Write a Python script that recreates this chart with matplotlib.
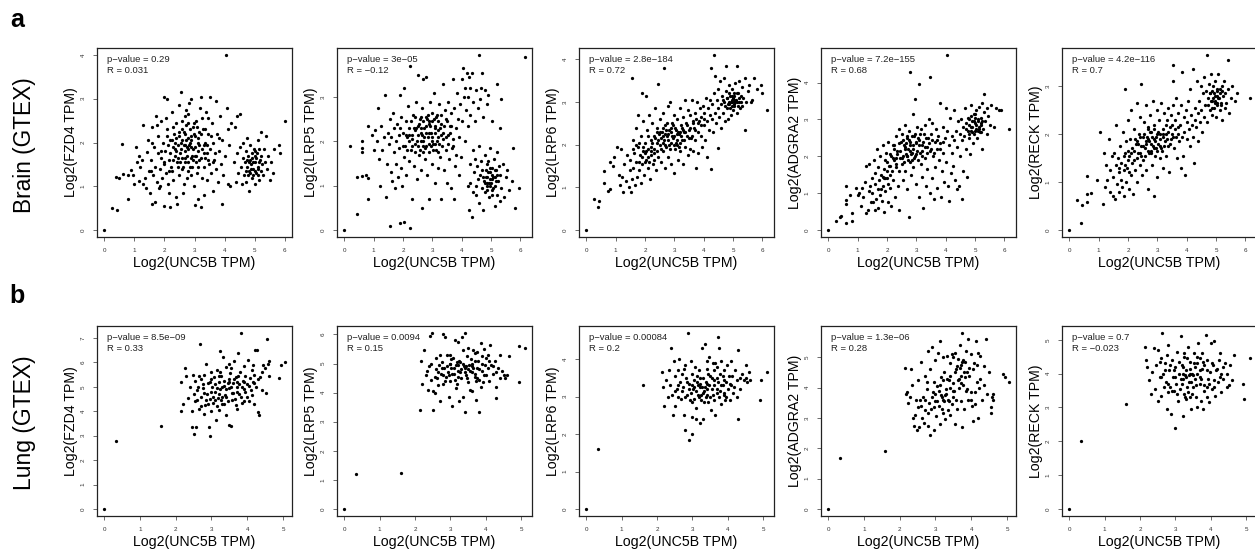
import matplotlib
matplotlib.use('Agg')
import matplotlib.pyplot as plt
import numpy as np

plt.rcParams['font.family'] = ['Liberation Sans', 'DejaVu Sans']

# ---------------- labels / stats ----------------
genes = ['FZD4', 'LRP5', 'LRP6', 'ADGRA2', 'RECK']
row_labels = ['Brain (GTEX)', 'Lung (GTEX)']
panel_letters = ['a', 'b']
x_label = 'Log2(UNC5B TPM)'
brain_pvals = ['0.29', '3e\u221205', '2.8e\u2212184', '7.2e\u2212155', '4.2e\u2212116']
brain_r = ['0.031', '\u22120.12', '0.72', '0.68', '0.7']
lung_pvals = ['8.5e\u221209', '0.0094', '0.00084', '1.3e\u221206', '0.7']
lung_r = ['0.33', '0.15', '0.2', '0.28', '\u22120.023']

# ---------------- Brain (GTEX) points (UNC5B, gene) ----------------
brain_fzd4 = [
(0,0),(0.25,0.5),(0.42,0.45),(0.4,1.22),(0.5,1.18),(0.6,1.97),(0.62,1.28),(0.8,0.72),(0.78,1.25),(0.9,1.38),
(1.0,1.05),(1.05,1.9),(1.1,1.55),(1.15,1.12),(1.2,1.45),(1.25,1.6),(1.3,2.4),(1.35,1.2),(1.38,0.95),(1.42,1.78),
(1.45,2.05),(1.48,1.35),(1.3,1.05),(1.15,1.7),(0.95,1.25),
(1.52,0.85),(1.55,1.6),(1.58,2.35),(1.6,0.6),(1.62,1.25),(1.65,1.9),(1.68,0.65),(1.7,1.45),(1.72,2.6),(1.75,1.1),
(1.78,1.75),(1.8,2.15),(1.82,0.95),(1.85,1.4),(1.88,2.5),(1.9,1.65),(1.92,1.2),(1.95,2.0),(1.98,0.55),(2.0,3.05),
(1.97,1.5),(1.6,2.0),(1.75,2.4),(1.85,1.0),(1.55,1.35),
(2.02,1.8),(2.05,1.3),(2.08,2.3),(2.1,3.0),(2.12,1.05),(2.15,1.6),(2.18,2.05),(2.2,0.52),(2.22,1.45),(2.25,2.7),
(2.28,1.9),(2.3,1.15),(2.32,2.2),(2.35,1.7),(2.38,0.75),(2.4,2.45),(2.42,1.55),(2.45,1.95),(2.48,1.25),(2.5,2.85),
(2.05,2.55),(2.15,0.85),(2.25,1.35),(2.35,2.0),(2.45,1.65),(2.12,1.95),(2.28,2.35),(2.42,0.6),(2.38,1.8),(2.48,2.15),
(2.52,1.75),(2.55,3.15),(2.58,1.4),(2.6,2.3),(2.62,0.85),(2.65,1.95),(2.68,2.6),(2.7,1.55),(2.72,2.05),(2.75,1.2),
(2.78,2.45),(2.8,1.85),(2.82,2.9),(2.85,1.45),(2.88,2.15),(2.9,3.0),(2.92,1.7),(2.95,2.35),(2.98,1.0),(3.0,0.58),
(2.55,2.0),(2.6,1.65),(2.7,2.2),(2.75,1.9),(2.85,2.0),(2.9,1.25),(2.65,1.05),(2.8,2.65),(2.95,1.6),(2.58,2.5),
(2.68,1.8),(2.78,1.35),(2.88,1.9),(2.98,2.2),(2.72,2.75),
(2.2,1.75),(2.25,2.05),(2.3,1.6),(2.35,1.85),(2.4,2.1),(2.45,1.45),(2.5,2.25),(2.52,1.55),(2.55,1.85),(2.6,2.05),
(2.62,1.45),(2.65,2.25),(2.68,1.65),(2.7,1.95),(2.72,2.4),(2.75,1.7),(2.78,2.1),(2.8,1.55),(2.82,1.95),(2.85,2.3),
(2.88,1.65),(2.9,2.05),(2.92,1.45),(2.95,1.85),(2.98,2.45),(3.0,1.7),(3.02,2.15),(3.05,1.55),(3.08,2.35),(3.1,1.8),
(3.12,1.45),(3.15,1.95),(3.2,1.65),(3.22,2.2),(3.25,2.55),(3.3,1.75),(3.35,2.3),(3.4,1.95),(1.9,1.8),(2.0,1.55),
(2.1,2.15),(2.15,1.35),(3.45,1.6),(3.55,2.15),(3.6,1.55),
(3.02,1.9),(3.05,2.5),(3.08,1.3),(3.1,0.7),(3.12,2.1),(3.15,1.6),(3.18,2.8),(3.2,3.05),(3.22,0.52),(3.25,1.85),
(3.28,2.3),(3.3,0.8),(3.32,1.45),(3.35,2.0),(3.38,2.7),(3.4,1.15),(3.42,1.75),(3.45,2.2),(3.48,1.5),(3.5,3.05),
(3.05,1.7),(3.15,2.25),(3.25,1.2),(3.35,1.65),(3.45,2.55),(3.1,2.0),(3.3,1.95),
(3.52,1.85),(3.55,1.3),(3.58,2.45),(3.6,0.9),(3.62,2.0),(3.65,1.6),(3.7,2.95),(3.72,1.4),(3.75,2.2),(3.78,1.1),
(3.8,1.8),(3.85,2.6),(3.88,1.5),(3.9,0.6),(3.92,2.05),(3.95,1.25),(4.0,1.7),(4.05,4.0),(4.08,2.8),(4.1,1.05),
(4.12,2.3),(4.15,1.95),(4.2,2.45),(4.18,1.0),(3.68,1.75),(3.82,2.1),
(4.3,1.55),(4.35,2.35),(4.38,1.1),(4.4,2.6),(4.42,1.75),(4.45,1.3),(4.5,2.65),(4.52,1.9),(4.55,1.45),(4.58,1.05),
(4.6,1.65),(4.62,2.0),(4.65,1.25),(4.68,1.55),(4.7,1.8),(4.72,1.1),(4.75,1.45),(4.78,1.7),(4.8,0.9),(4.82,1.35),
(4.85,1.95),(4.88,1.5),(4.9,1.2),(4.92,1.65),(4.95,1.4),(4.98,1.85),(5.0,1.05),(5.02,1.55),(5.05,1.3),(5.08,1.75),
(5.1,2.05),(5.12,1.45),(5.15,1.15),(5.18,1.6),(5.2,1.35),(5.22,2.25),(5.25,1.5),(5.28,1.25),(5.3,1.85),(5.35,1.55),
(5.38,2.15),(5.4,1.4),(5.45,1.7),(5.5,1.15),(5.55,1.55),(4.85,1.6),(5.0,1.7),(4.95,1.25),(5.15,1.85),(4.75,2.1),
(4.7,1.35),(4.75,1.6),(4.8,1.55),(4.85,1.3),(4.9,1.75),(4.95,1.55),(5.0,1.35),(5.05,1.65),(5.1,1.4),(5.15,1.55),
(5.2,1.7),(4.88,1.4),(5.02,1.8),(5.12,1.25),(4.78,1.25),
(5.65,1.85),(5.6,1.3),(5.8,1.95),(5.85,1.75),(6.0,2.5),
]

brain_lrp5 = [
(0,0),(0.2,1.9),(0.42,0.35),(0.45,1.2),(0.6,1.75),(0.6,2.0),(0.6,1.85),(0.6,1.22),(0.75,1.25),(0.8,0.7),
(0.82,1.18),(0.8,2.35),(0.95,2.15),(1.0,1.8),(1.05,2.25),(1.1,2.0),(1.15,2.75),(1.2,1.6),(1.22,1.0),(1.25,2.35),
(1.3,1.8),(1.35,2.1),(1.4,3.05),(1.42,0.75),(1.45,1.5),(1.48,2.2),
(1.55,0.08),(1.9,0.15),(2.05,0.17),(2.25,0.05),
(1.52,1.95),(1.55,2.5),(1.58,1.3),(1.6,2.1),(1.62,1.1),(1.65,2.65),(1.68,1.75),(1.7,2.3),(1.72,0.95),(1.75,2.0),
(1.78,1.5),(1.8,2.4),(1.82,1.2),(1.85,2.15),(1.88,1.85),(1.9,3.05),(1.92,1.4),(1.95,2.55),(1.98,1.0),(2.0,2.2),
(2.02,1.65),(2.05,3.2),(2.08,1.9),(2.1,2.45),(2.12,1.25),(2.15,2.1),(2.18,2.8),(2.2,1.55),(2.22,2.3),(2.25,3.7),
(2.28,1.8),(2.3,2.05),(2.32,0.7),(2.35,2.6),(2.38,1.45),(2.4,2.25),(2.42,1.95),(2.45,2.9),(2.48,1.15),(2.5,3.5),
(2.52,2.15),(2.55,1.7),(2.58,2.5),(2.6,1.35),(2.62,2.0),(2.65,0.5),(2.65,2.75),(2.68,1.9),(2.7,3.4),(2.72,2.3),
(2.75,1.6),(2.78,2.55),(2.8,3.45),(2.82,1.25),(2.85,2.1),(2.88,2.4),(2.9,0.7),(2.9,1.75),(2.92,2.9),(2.95,2.2),
(2.98,1.5),(3.0,2.65),(3.02,1.95),(3.05,3.1),(3.08,1.05),(3.1,2.35),(3.12,1.8),(3.15,2.6),(3.18,1.4),(3.2,2.1),
(3.22,2.85),(3.25,1.65),(3.28,0.7),(3.3,2.4),(3.32,1.9),(3.35,3.3),(3.38,2.2),(3.4,1.35),(3.42,2.7),(3.45,1.8),
(3.48,2.5),(3.5,1.05),(3.52,2.15),(3.55,2.9),(3.58,1.6),(3.6,2.35),(3.62,0.95),(3.65,2.65),(3.68,1.85),(3.7,3.4),
(3.72,2.05),(3.75,0.7),(3.75,2.75),(3.78,1.45),(3.8,2.3),(3.82,1.7),(3.85,3.1),(3.88,2.5),(3.9,1.25),(3.92,2.1),
(3.95,2.85),(3.98,1.65),
(2.3,2.15),(2.5,1.9),(2.6,2.3),(2.7,2.0),(2.8,2.2),(2.9,2.45),(3.0,2.0),(3.1,2.2),(2.4,1.75),(2.55,2.4),
(2.75,1.85),(2.85,2.6),(3.15,2.0),(3.25,2.3),(2.2,2.0),(2.45,2.3),(2.65,2.15),(2.95,1.9),(3.05,2.5),(3.2,1.75),
(2.22,2.15),(2.28,2.45),(2.32,1.9),(2.38,2.3),(2.42,2.55),(2.48,2.0),(2.52,2.35),(2.58,1.8),(2.6,2.55),(2.62,2.2),
(2.68,2.45),(2.7,1.75),(2.72,2.1),(2.78,2.35),(2.8,1.9),(2.82,2.5),(2.88,2.2),(2.9,1.95),(2.92,2.35),(2.98,2.1),
(3.0,2.45),(3.02,1.8),(3.08,2.3),(3.1,1.95),(3.12,2.55),(3.18,2.25),(3.2,2.45),(3.22,1.95),(3.28,2.15),(3.3,2.6),
(3.35,2.05),(3.4,2.35),(3.45,2.1),(3.5,2.45),(3.55,1.95),(3.6,2.2),(2.0,1.9),(2.1,2.15),(1.9,2.3),(2.15,1.8),
(3.65,2.35),(3.7,1.9),
(4.0,3.4),(4.02,2.45),(4.05,3.65),(4.08,3.0),(4.1,2.0),(4.12,3.2),(4.15,2.7),(4.18,3.55),(4.2,2.35),(4.22,3.0),
(4.25,3.45),(4.28,2.6),(4.3,3.2),(4.35,3.55),(4.4,2.9),(4.45,2.45),(4.5,3.15),(4.55,2.75),(4.6,3.95),(4.62,2.95),
(4.65,3.2),(4.7,3.55),(4.72,2.55),(4.78,3.15),(4.85,2.85),(4.9,3.05),(5.05,2.45),(5.2,3.3),(5.3,2.3),(5.35,2.95),
(4.2,1.0),(4.25,0.45),(4.28,1.5),(4.3,1.05),(4.35,0.3),(4.38,1.8),(4.4,0.85),(4.42,1.3),(4.45,1.6),(4.48,1.0),
(4.5,0.8),(4.52,1.45),(4.55,1.15),(4.58,1.9),(4.6,0.6),(4.62,1.25),(4.65,1.55),(4.68,0.95),(4.7,1.35),(4.72,0.45),
(4.75,1.1),(4.78,1.7),(4.8,0.85),(4.82,1.2),(4.85,1.5),(4.88,1.0),(4.9,1.3),(4.92,0.75),(4.95,1.15),(4.98,1.85),
(5.0,1.05),(5.02,1.4),(5.05,0.9),(5.08,1.2),(5.1,1.6),(5.12,0.55),(5.15,1.0),(5.18,1.35),(5.2,0.8),(5.22,1.75),
(5.25,1.1),(5.28,1.45),(5.3,0.65),(5.32,1.25),(5.35,0.95),(5.4,1.5),(5.45,0.75),(5.5,1.2),(5.55,1.35),(5.6,0.9),
(4.95,1.0),(5.05,1.25),(4.85,1.05),(5.15,1.2),(4.9,1.55),
(4.72,1.2),(4.78,1.05),(4.82,1.35),(4.88,1.2),(4.92,1.05),(4.98,1.3),(5.02,1.15),(5.08,0.95),(5.12,1.35),(5.18,1.1),
(5.22,1.25),(4.95,1.4),(5.05,0.8),(4.85,0.9),
(5.7,1.1),(5.75,1.85),(5.8,0.5),(5.95,0.95),(6.15,3.9),
]

brain_lrp6 = [
(0,0),(0.25,0.72),(0.4,0.55),(0.45,0.67),(0.6,1.1),(0.62,1.38),(0.75,0.92),(0.82,0.95),(0.8,1.6),(0.9,1.5),
(0.95,1.72),(1.05,1.95),(1.1,1.3),(1.15,1.05),(1.2,1.9),(1.22,1.25),(1.25,0.9),(1.3,1.55),(1.35,1.15),(1.4,1.75),
(1.45,1.0),(1.48,1.4),
(1.5,1.65),(1.52,0.9),(1.55,3.55),(1.55,1.2),(1.58,2.1),(1.6,1.45),(1.62,1.8),(1.65,1.05),(1.68,2.4),(1.7,1.6),
(1.72,1.25),(1.75,1.95),(1.78,2.7),(1.8,1.4),(1.82,1.75),(1.85,1.1),(1.88,2.2),(1.9,3.2),(1.9,1.55),(1.92,1.85),
(1.95,2.55),(1.98,1.3),(2.0,2.05),(2.02,3.15),(2.05,1.65),(2.08,2.35),(2.1,1.45),(2.12,1.9),(2.15,2.7),(2.18,1.2),
(2.2,2.1),(2.22,1.75),(2.25,2.5),(2.28,1.55),(2.3,2.2),(2.32,1.9),(2.35,2.85),(2.38,1.4),(2.4,2.05),(2.42,2.4),
(2.45,3.42),(2.45,1.7),(2.48,2.25),(1.6,1.9),(1.7,2.0),(1.8,2.05),(2.0,1.6),(2.1,2.2),(2.2,1.95),(2.3,1.65),
(2.4,2.3),(1.95,1.95),(2.05,1.85),(2.15,1.6),
(2.5,2.0),(2.52,2.6),(2.55,1.6),(2.58,2.3),(2.6,1.85),(2.62,2.75),(2.65,3.8),(2.65,2.1),(2.68,1.45),(2.7,2.45),
(2.72,1.95),(2.75,2.2),(2.78,2.9),(2.8,1.7),(2.82,2.35),(2.85,3.0),(2.88,2.05),(2.9,1.55),(2.92,2.5),(2.95,2.15),
(2.98,1.33),(3.0,2.7),(3.02,1.9),(3.05,2.35),(3.08,2.0),(3.1,2.6),(3.12,1.65),(3.15,2.25),(3.18,2.85),(3.2,1.85),
(3.22,2.45),(3.25,2.1),(3.28,1.55),(3.3,2.65),(3.32,2.3),(3.35,3.05),(3.38,1.95),(3.4,2.5),(3.42,2.2),(3.45,1.75),
(3.48,2.8),(2.6,2.2),(2.7,2.0),(2.8,2.25),(2.9,2.3),(3.0,2.2),(3.1,2.1),(3.2,2.3),(2.75,2.5),(2.85,1.9),
(2.95,2.45),(3.05,2.05),(3.15,1.95),(2.55,2.15),(3.25,2.4),
(2.2,1.85),(2.25,2.05),(2.3,1.8),(2.35,2.15),(2.4,1.85),(2.45,2.1),(2.5,2.3),(2.55,1.9),(2.6,2.4),(2.62,2.05),
(2.68,2.25),(2.72,2.35),(2.78,2.1),(2.82,2.0),(2.88,2.4),(2.92,2.2),(2.98,2.0),(3.02,2.4),(3.08,2.25),(3.12,2.3),
(3.18,2.05),(3.22,2.2),(3.28,2.35),(3.32,2.1),(3.38,2.3),(3.42,2.45),(3.5,2.15),(3.55,2.4),(3.6,2.2),(3.65,2.55),
(3.7,2.35),(3.8,2.5),(1.9,1.7),(2.0,1.8),(2.1,1.7),(1.8,1.6),(3.9,2.45),(4.0,2.6),
(3.5,2.35),(3.52,1.9),(3.55,2.7),(3.58,2.15),(3.6,3.05),(3.62,2.5),(3.65,1.85),(3.68,2.4),(3.7,2.75),(3.72,2.1),
(3.75,1.45),(3.75,2.6),(3.78,3.0),(3.8,2.3),(3.82,1.8),(3.85,2.55),(3.88,2.85),(3.9,2.2),(3.92,2.65),(3.95,1.95),
(3.98,2.9),(4.0,2.45),(4.02,2.75),(4.05,2.1),(4.08,3.1),(4.1,2.55),(4.12,1.7),(4.15,2.85),(4.18,2.35),(4.2,2.7),
(4.22,3.05),(4.25,1.42),(4.25,3.8),(4.28,2.6),(4.3,2.95),
(4.32,2.3),(4.35,4.1),(4.35,3.2),(4.38,2.75),(4.4,3.6),(4.42,2.5),(4.45,3.05),(4.48,2.85),(4.5,1.92),(4.5,3.3),
(4.52,2.65),(4.55,3.5),(4.58,2.95),(4.6,2.4),(4.62,3.15),(4.65,2.75),(4.68,3.55),(4.7,3.0),(4.72,2.55),(4.75,3.85),
(4.75,3.25),(4.78,2.85),(4.8,3.1),(4.82,2.6),(4.85,3.4),(4.88,2.95),(4.9,3.15),(4.92,2.7),(4.95,3.3),(4.98,3.0),
(5.0,2.8),(5.02,3.2),(5.05,2.9),(5.08,3.45),(5.1,3.05),(5.12,3.85),(5.15,2.75),(5.18,3.2),(5.2,3.0),(5.22,3.5),
(5.25,2.85),(5.28,3.15),(5.3,3.35),(5.32,2.9),(5.35,3.1),(5.4,2.35),(5.42,3.55),(5.45,3.0),(5.5,3.25),(5.55,3.4),
(5.6,3.0),(4.85,3.0),(4.95,2.9),(5.05,3.05),(5.15,3.0),(4.9,2.85),(5.0,3.1),
(4.65,3.05),(4.72,2.9),(4.78,3.1),(4.82,2.95),(4.88,3.2),(4.92,3.0),(4.98,3.15),(5.02,2.95),(5.08,3.0),(5.12,3.2),
(5.18,2.9),(5.22,3.1),(5.28,3.0),(4.95,3.05),(5.05,3.15),
(5.7,3.55),(5.65,3.05),(5.8,3.3),(5.95,3.4),(6.0,3.2),(6.15,2.8),
]

brain_adgra2 = [
(0,0),(0.25,0.25),(0.4,0.35),(0.45,0.38),(0.6,0.2),(0.6,0.7),(0.6,1.2),(0.62,0.82),(0.75,0.95),(0.8,0.25),
(0.8,0.45),(0.95,1.15),(1.0,0.95),(1.05,1.0),(1.1,0.65),(1.15,1.15),(1.2,0.9),(1.25,1.3),(1.28,0.45),(1.3,1.75),
(1.35,0.55),(1.38,1.05),(1.4,1.8),(1.42,1.2),(1.45,0.75),(1.48,1.4),
(1.5,1.0),(1.52,0.75),(1.55,1.9),(1.58,1.25),(1.6,0.55),(1.6,1.55),(1.62,0.85),(1.65,2.2),(1.68,1.1),(1.7,0.6),
(1.7,1.7),(1.72,1.35),(1.75,0.95),(1.78,2.0),(1.8,1.5),(1.82,0.8),(1.85,1.2),(1.88,2.3),(1.9,0.5),(1.9,1.65),
(1.92,1.9),(1.95,1.05),(1.98,2.1),(2.0,1.4),(2.02,0.75),(2.05,2.4),(2.08,1.75),(2.1,1.15),(2.12,2.05),(2.15,0.65),
(2.18,1.6),(2.2,2.3),(2.22,1.35),(2.25,1.9),(2.28,0.9),(2.3,2.55),(2.32,1.7),(2.35,2.15),(2.38,1.2),(2.4,2.75),
(2.42,0.55),(2.45,1.95),(2.48,2.4),(1.8,1.1),(1.95,1.4),(2.1,1.75),(2.25,2.2),(2.4,1.6),(2.0,1.85),(2.15,2.0),
(2.3,1.95),(1.85,1.45),
(2.5,1.8),(2.52,2.6),(2.55,1.35),(2.58,2.3),(2.6,2.85),(2.62,1.6),(2.65,2.05),(2.68,2.5),(2.7,1.1),(2.72,2.2),
(2.75,0.35),(2.75,2.7),(2.78,1.85),(2.8,4.3),(2.8,2.4),(2.82,1.5),(2.85,2.1),(2.88,3.15),(2.9,1.7),(2.92,2.55),
(2.95,3.55),(2.95,2.0),(2.98,1.25),(3.0,2.35),(3.02,2.8),(3.05,1.9),(3.08,0.9),(3.1,3.95),(3.1,2.45),(3.12,2.1),
(3.15,2.75),(3.18,1.45),(3.2,2.3),(3.22,0.6),(3.25,2.6),(3.28,1.95),(3.3,2.85),(3.32,1.2),(3.35,2.25),(3.38,1.65),
(3.4,2.5),(3.42,3.0),(3.45,4.15),(3.45,1.0),(3.48,2.15),(2.6,2.2),(2.7,2.0),(2.8,2.15),(2.9,2.3),(3.0,2.05),
(3.2,2.15),(2.65,2.35),(2.85,1.9),(3.05,2.5),(2.55,2.0),(2.75,2.45),(2.95,2.6),(3.15,1.8),
(2.2,1.95),(2.25,2.3),(2.3,1.8),(2.35,2.05),(2.4,2.35),(2.45,2.15),(2.5,1.95),(2.55,2.45),(2.58,1.85),(2.62,2.25),
(2.68,2.0),(2.7,2.55),(2.72,1.9),(2.78,2.3),(2.82,2.05),(2.85,2.55),(2.88,2.2),(2.92,1.95),(2.98,2.4),(3.02,2.15),
(3.08,2.3),(3.12,2.6),(3.18,2.0),(3.22,2.4),(3.28,2.25),(3.32,2.5),(3.38,2.1),(3.42,2.35),(3.5,2.2),(3.55,2.45),
(3.6,2.1),(3.7,2.45),(1.9,1.4),(2.0,1.6),(2.05,1.25),(2.1,1.5),(3.8,2.2),(3.9,2.4),
(3.5,2.6),(3.52,1.4),(3.55,2.9),(3.58,2.0),(3.6,0.85),(3.62,2.4),(3.65,1.7),(3.68,2.75),(3.7,2.2),(3.72,1.15),
(3.75,2.55),(3.78,1.9),(3.8,3.45),(3.82,2.35),(3.85,0.9),(3.88,1.6),(3.9,2.8),(3.92,2.1),(3.95,1.3),(3.98,2.5),
(4.0,3.3),(4.02,1.85),(4.05,4.75),(4.05,2.7),(4.08,1.2),(4.1,2.3),(4.12,0.8),(4.15,3.05),(4.18,1.55),(4.2,2.55),
(4.22,2.1),(4.25,1.75),(4.28,3.25),(4.3,2.45),
(4.32,1.35),(4.35,2.7),(4.38,1.1),(4.4,2.25),(4.42,2.95),(4.45,1.2),(4.48,2.6),(4.5,2.0),(4.52,3.0),(4.55,0.85),
(4.55,2.45),(4.58,2.8),(4.6,1.6),(4.62,2.55),(4.65,3.3),(4.68,2.2),(4.7,2.75),(4.72,1.45),(4.75,3.05),(4.78,2.5),
(4.8,2.85),(4.82,2.05),(4.85,3.4),(4.88,2.7),(4.9,2.95),(4.92,2.35),(4.95,3.15),(4.98,2.6),(5.0,2.9),(5.02,2.75),
(5.05,3.25),(5.08,2.5),(5.1,3.0),(5.12,2.8),(5.15,3.35),(5.18,2.65),(5.2,3.05),(5.22,2.9),(5.25,2.2),(5.25,3.45),
(5.28,2.75),(5.3,3.2),(5.32,3.7),(5.35,2.95),(5.4,3.3),(5.42,2.6),(5.45,3.1),(5.5,2.85),(5.55,3.4),(4.9,2.8),
(5.0,3.05),(5.1,2.7),(4.8,2.6),(5.2,2.85),
(4.7,2.9),(4.75,2.7),(4.8,3.0),(4.85,2.8),(4.9,2.65),(4.95,2.95),(5.0,2.7),(5.05,2.85),(5.1,2.95),(5.15,2.75),
(5.2,2.65),(5.25,2.95),(4.88,3.1),(5.0,3.15),
(5.7,3.3),(5.65,2.8),(5.8,3.25),(5.9,3.25),(6.15,2.75),
]

brain_reck = [
(0,0),(0.25,0.63),(0.4,0.15),(0.45,0.52),(0.6,0.58),(0.6,0.75),(0.62,1.12),(0.75,0.78),(0.95,1.05),(1.05,2.05),
(1.15,0.55),(1.2,1.6),(1.22,0.9),(1.25,1.35),(1.3,1.05),(1.35,1.9),(1.38,0.8),(1.4,1.25),(1.45,1.55),(1.48,0.7),
(1.5,1.1),(1.52,1.6),(1.55,0.65),(1.58,1.35),(1.6,2.2),(1.62,0.95),(1.65,1.5),(1.68,1.2),(1.7,0.8),(1.72,1.75),
(1.75,1.05),(1.78,1.4),(1.8,0.9),(1.82,2.05),(1.85,1.25),(1.88,0.7),(1.9,2.95),(1.9,1.6),(1.92,1.0),(1.95,1.85),
(1.98,1.3),(2.0,2.3),(2.02,0.85),(2.05,1.55),(2.08,1.9),(2.1,1.15),(2.12,2.5),(2.15,1.7),(2.18,0.75),(2.2,1.45),
(2.22,2.1),(2.25,1.25),(2.28,1.8),(2.3,2.65),(2.32,1.0),(2.35,1.6),(2.38,2.0),(2.4,1.35),(2.42,2.35),(2.45,3.05),
(2.45,1.75),(2.48,1.15),(1.7,1.3),(1.85,1.55),(2.0,1.65),(2.15,1.4),(2.3,1.85),(2.4,1.6),
(2.5,1.95),(2.52,1.45),(2.55,2.25),(2.58,1.7),(2.6,2.6),(2.62,1.25),(2.65,1.95),(2.68,2.15),(2.7,0.85),(2.72,1.6),
(2.75,2.4),(2.78,1.8),(2.8,2.05),(2.82,1.35),(2.85,2.7),(2.88,1.7),(2.9,0.7),(2.9,2.2),(2.92,1.55),(2.95,1.95),
(2.98,2.5),(3.0,1.1),(3.02,1.8),(3.05,2.3),(3.08,1.5),(3.1,2.0),(3.12,2.65),(3.15,1.65),(3.18,2.1),(3.2,1.3),
(3.22,2.45),(3.25,1.85),(3.28,2.0),(3.3,1.55),(3.32,2.3),(3.35,1.75),(3.38,2.55),(3.4,1.2),(3.42,2.15),(3.45,1.9),
(3.48,2.4),(2.6,1.85),(2.7,1.9),(2.8,1.65),(2.9,1.9),(3.0,2.0),(3.1,1.75),(3.2,1.95),(2.75,2.05),(2.95,1.7),
(2.2,1.65),(2.25,1.9),(2.3,1.5),(2.35,1.8),(2.4,1.95),(2.45,1.55),(2.5,1.75),(2.55,2.0),(2.58,1.55),(2.62,1.8),
(2.68,1.65),(2.7,2.1),(2.72,1.85),(2.78,1.6),(2.82,1.95),(2.85,1.75),(2.88,2.1),(2.92,1.85),(2.98,1.65),(3.02,2.05),
(3.08,1.9),(3.12,1.7),(3.18,2.0),(3.22,1.75),(3.28,2.2),(3.32,1.9),(3.38,2.05),(3.42,1.8),(3.5,2.2),(3.55,1.95),
(3.6,2.1),(3.7,2.0),(1.9,1.35),(2.0,1.45),(2.05,1.2),(2.1,1.6),
(3.5,2.0),(3.52,2.6),(3.55,3.45),(3.55,3.1),(3.58,1.7),(3.6,2.3),(3.62,1.95),(3.65,2.75),(3.68,1.5),(3.7,2.15),
(3.72,2.45),(3.75,1.85),(3.78,2.2),(3.8,1.3),(3.82,2.6),(3.85,3.3),(3.85,1.95),(3.88,1.55),(3.9,2.35),(3.92,2.05),
(3.95,1.15),(3.98,2.5),(4.0,2.25),(4.02,1.9),(4.05,2.7),(4.08,2.1),(4.1,2.95),(4.12,1.75),(4.15,2.4),(4.18,2.2),
(4.2,3.35),(4.22,1.95),(4.25,1.4),(4.28,2.55),(4.3,2.3),
(4.32,2.15),(4.35,3.1),(4.38,2.45),(4.4,1.85),(4.42,2.7),(4.45,2.25),(4.48,3.0),(4.5,2.5),(4.52,2.05),(4.55,2.85),
(4.58,2.35),(4.6,3.2),(4.62,2.6),(4.65,2.9),(4.68,2.25),(4.7,3.65),(4.72,2.75),(4.75,3.05),(4.78,2.5),(4.8,2.85),
(4.82,3.25),(4.85,2.4),(4.88,2.7),(4.9,3.0),(4.92,2.55),(4.95,2.8),(4.98,3.1),(5.0,2.35),(5.02,2.65),(5.05,2.9),
(5.08,3.25),(5.1,2.75),(5.12,2.5),(5.15,2.95),(5.18,2.65),(5.2,3.0),(5.22,2.3),(5.25,2.8),(5.28,3.1),(5.3,2.55),
(5.32,2.85),(5.35,2.65),(5.4,2.95),(5.42,3.55),(5.45,2.45),(5.5,2.75),(5.55,3.0),(4.95,2.7),(5.05,2.6),(4.85,2.9),
(4.72,2.6),(4.78,2.85),(4.82,2.7),(4.88,2.55),(4.92,2.85),(4.98,2.65),(5.02,2.95),(5.08,2.75),(5.12,2.85),(5.18,2.6),
(5.22,2.9),(4.9,2.75),(5.05,2.8),
(5.65,2.7),(5.7,2.85),(6.15,2.75),
]

# ---------------- Lung (GTEX) points (UNC5B, gene) ----------------
lung_fzd4 = [
(0,0),(0.32,2.78),(1.6,3.4),
(2.15,5.2),(2.15,4.0),(2.2,4.3),(2.25,5.75),(2.3,5.45),(2.35,4.55),(2.4,5.0),(2.45,3.35),(2.45,4.0),(2.48,5.5),
(2.5,4.7),(2.52,3.05),(2.55,5.25),(2.58,3.35),(2.6,4.45),(2.62,5.0),(2.65,4.1),(2.68,6.75),(2.7,5.3),(2.72,4.6),
(2.75,4.95),(2.78,3.9),(2.8,5.5),(2.82,4.25),(2.85,5.95),(2.88,4.7),(2.9,5.15),(2.92,3.35),(2.95,4.5),(2.95,3.0),
(2.98,5.6),(3.0,4.0),(3.02,5.0),(3.05,4.35),(3.08,5.4),(3.1,4.8),(3.12,3.65),(3.15,5.7),(3.18,4.55),(3.2,5.2),
(3.22,4.05),(3.25,6.45),(3.25,4.9),(3.28,5.45),(3.3,4.3),(3.32,6.2),(3.35,5.05),(3.38,4.65),(3.4,5.8),(3.42,3.85),
(3.45,4.4),(3.48,5.3),(3.5,3.45),(3.5,4.95),(3.52,5.55),(3.55,3.4),(3.58,4.75),(3.6,5.15),(3.62,6.05),(3.65,4.5),
(3.68,5.4),(3.7,4.1),(3.72,5.0),(3.75,6.4),(3.78,4.7),(3.8,5.6),(3.82,7.2),(3.85,4.35),(3.88,5.25),(3.9,5.85),
(3.92,4.9),(3.95,5.45),(3.98,4.6),(4.0,5.1),(4.02,6.1),(4.05,4.4),(4.08,5.35),(4.1,4.85),(4.12,5.7),(4.15,5.2),
(4.18,4.3),(4.2,5.5),(4.22,6.5),(4.25,5.0),(4.28,6.5),(4.3,3.95),(4.32,3.85),(4.35,5.4),(4.4,4.85),(4.45,5.9),
(4.5,5.75),(4.52,4.75),(4.55,6.95),(4.58,5.95),(4.6,6.05),(4.62,5.45),(4.9,5.35),(4.95,5.9),(5.05,6.0),
(3.0,4.8),(3.1,5.1),(3.2,4.7),(3.3,5.0),(3.4,4.9),(3.6,4.75),(3.7,5.2),(2.8,4.75),(2.9,4.3),(3.3,4.6),
(3.55,5.0),(3.85,5.0),(3.15,4.2),(3.45,5.15),(2.7,4.2),
(2.75,5.1),(2.85,4.45),(2.95,5.2),(3.05,4.6),(3.15,4.95),(3.2,5.45),(3.28,4.45),(3.35,5.25),(3.42,4.6),(3.5,5.2),
(3.58,4.45),(3.62,5.3),(3.7,4.8),(3.78,5.1),(3.82,4.6),(3.9,5.2),(3.95,4.8),(4.05,5.05),(4.12,4.65),(4.2,5.15),
(3.1,4.45),(3.25,5.6),(3.55,5.75),(3.68,4.25),(2.6,4.85),(2.65,5.45),(3.35,4.3),(3.48,5.95),(3.0,5.3),(3.75,5.45),
(4.3,5.3),(4.4,5.6),(2.55,4.4),(3.92,4.4),(4.15,5.9),
]

lung_lrp5 = [
(0,0),(0.32,1.2),(1.6,1.25),
(2.15,3.4),(2.18,5.1),(2.2,4.3),(2.25,5.45),(2.3,4.6),(2.35,4.75),(2.38,4.1),(2.4,4.9),(2.42,5.95),(2.45,4.45),
(2.48,6.05),(2.5,4.05),(2.52,3.4),(2.55,4.0),(2.58,5.2),(2.6,4.8),(2.62,4.5),(2.65,4.25),(2.68,4.95),(2.7,3.7),
(2.72,4.65),(2.75,5.05),(2.78,4.3),(2.8,6.0),(2.82,4.85),(2.85,5.9),(2.88,4.55),(2.9,5.3),(2.92,4.7),(2.95,3.85),
(2.98,5.0),(3.0,4.4),(3.02,4.85),(3.05,3.55),(3.08,5.2),(3.1,4.65),(3.12,5.8),(3.15,4.95),(3.18,4.3),(3.2,5.75),
(3.22,4.75),(3.25,3.7),(3.28,5.05),(3.3,4.5),(3.32,5.9),(3.35,3.85),(3.38,4.9),(3.4,6.05),(3.42,3.35),(3.45,4.6),
(3.48,5.25),(3.5,4.35),(3.52,4.95),(3.55,4.1),(3.58,5.15),(3.6,4.7),(3.62,4.05),(3.65,5.45),(3.68,4.55),(3.7,5.35),
(3.72,3.75),(3.75,4.85),(3.78,5.1),(3.8,3.35),(3.82,4.45),(3.85,5.7),(3.88,4.75),(3.9,5.25),(3.92,4.35),(3.95,5.5),
(3.98,4.95),(4.0,4.6),(4.05,5.3),(4.1,4.4),(4.12,5.65),(4.15,4.95),(4.2,4.65),(4.25,5.1),(4.28,4.2),(4.3,3.8),
(4.35,4.85),(4.4,5.3),(4.45,4.75),(4.5,4.6),(4.55,4.5),(4.6,4.6),(4.65,5.25),(4.95,5.6),(4.95,4.35),(5.1,5.55),
(2.9,4.9),(3.0,5.0),(3.1,4.85),(3.2,4.95),(3.3,4.8),(3.4,4.7),(3.5,4.8),(3.6,5.0),(3.7,4.65),(2.8,4.6),
(3.05,4.65),(3.25,5.1),(3.45,4.9),(3.65,4.85),(3.75,4.5),
(2.65,4.7),(2.75,4.85),(2.85,4.4),(2.95,4.6),(3.02,5.15),(3.12,4.45),(3.18,5.05),(3.22,4.55),(3.28,4.7),(3.35,5.0),
(3.42,4.85),(3.48,4.5),(3.55,4.75),(3.62,4.9),(3.68,5.1),(3.72,4.4),(3.8,4.8),(3.88,5.0),(3.95,4.6),(4.05,4.85),
(4.1,5.1),(4.2,4.9),(4.3,4.7),(4.4,4.5),(3.0,5.3),(3.35,5.45),(2.55,4.55),(3.15,4.15),(3.75,5.4),(3.5,5.55),
(2.45,5.0),(4.0,5.2),(3.85,4.2),(2.7,5.3),
]

lung_lrp6 = [
(0,0),(0.32,1.6),(1.6,3.3),
(2.15,3.65),(2.18,3.25),(2.2,2.75),(2.25,3.45),(2.3,3.0),(2.35,3.7),(2.38,3.3),(2.4,4.3),(2.42,3.05),(2.45,2.5),
(2.48,3.95),(2.5,3.55),(2.52,2.75),(2.55,3.2),(2.58,3.7),(2.6,3.0),(2.62,4.0),(2.65,3.4),(2.68,2.95),(2.7,3.6),
(2.72,3.25),(2.75,2.5),(2.78,2.1),(2.8,3.85),(2.82,3.5),(2.85,3.05),(2.88,4.7),(2.9,1.85),(2.9,3.35),(2.92,2.9),
(2.95,3.95),(2.98,2.45),(3.0,2.0),(3.0,3.6),(3.02,3.2),(3.05,2.95),(3.08,3.8),(3.1,2.4),(3.12,3.4),(3.15,3.05),
(3.18,3.7),(3.2,2.3),(3.22,3.25),(3.25,2.9),(3.28,4.3),(3.3,2.4),(3.3,3.5),(3.32,3.15),(3.35,4.4),(3.38,3.0),
(3.4,3.75),(3.42,3.35),(3.45,2.85),(3.48,4.05),(3.5,3.55),(3.52,2.65),(3.55,3.2),(3.58,3.9),(3.6,2.9),(3.62,3.45),
(3.65,2.5),(3.68,3.8),(3.7,3.1),(3.72,4.6),(3.75,4.3),(3.75,3.0),(3.78,3.6),(3.8,2.8),(3.82,3.95),(3.85,3.3),
(3.88,3.05),(3.9,3.7),(3.92,2.9),(3.95,3.4),(3.98,3.85),(4.0,3.2),(4.02,3.55),(4.05,2.9),(4.08,3.95),(4.1,3.3),
(4.15,3.1),(4.2,3.7),(4.25,3.0),(4.28,4.25),(4.3,2.4),(4.35,3.5),(4.4,3.6),(4.45,3.45),(4.5,3.85),(4.52,3.5),
(4.55,3.4),(4.6,3.65),(4.62,3.45),(4.9,2.9),(4.95,3.45),(5.1,3.65),
(2.9,3.2),(3.0,3.3),(3.1,3.15),(3.2,3.35),(3.3,3.1),(3.4,3.2),(3.5,3.0),(3.6,3.3),(3.7,3.5),(3.25,3.05),
(3.15,3.3),(3.35,3.25),(3.05,3.45),(3.45,3.6),(3.85,3.55),
(2.6,3.3),(2.7,3.15),(2.8,3.0),(2.85,3.4),(2.95,3.1),(3.0,2.85),(3.05,3.25),(3.12,3.55),(3.18,3.0),(3.22,3.5),
(3.28,3.25),(3.32,2.85),(3.38,3.4),(3.42,3.05),(3.48,3.3),(3.55,3.5),(3.58,3.05),(3.62,3.7),(3.68,3.2),(3.72,3.4),
(3.78,3.15),(3.82,3.3),(3.88,3.45),(3.95,3.0),(4.05,3.35),(4.12,3.55),(4.18,3.25),(4.25,3.45),(2.5,3.15),(3.1,2.7),
(3.4,3.95),(3.65,3.9),(2.75,3.75),(3.9,3.1),(4.35,3.2),
]

lung_adgra2 = [
(0,0),(0.32,1.68),(1.6,1.9),
(2.15,4.65),(2.18,3.8),(2.2,3.85),(2.22,3.5),(2.28,3.7),(2.32,4.6),(2.35,4.1),(2.38,3.0),(2.4,2.75),(2.42,3.1),
(2.45,3.6),(2.48,2.6),(2.5,4.25),(2.52,3.35),(2.55,2.7),(2.58,3.6),(2.6,4.85),(2.62,3.0),(2.65,3.7),(2.68,2.85),
(2.7,4.4),(2.72,3.25),(2.75,3.95),(2.78,2.75),(2.8,5.2),(2.82,3.5),(2.85,2.45),(2.85,4.6),(2.88,3.3),(2.9,5.35),
(2.92,3.85),(2.95,2.6),(2.95,4.2),(2.98,3.55),(3.0,4.9),(3.02,3.05),(3.05,4.05),(3.08,5.15),(3.1,3.4),(3.12,5.55),
(3.12,2.8),(3.15,4.35),(3.18,3.7),(3.2,5.0),(3.22,3.15),(3.25,4.5),(3.28,2.95),(3.3,3.95),(3.32,5.05),(3.35,3.6),
(3.38,4.25),(3.4,3.1),(3.42,4.8),(3.45,3.45),(3.48,4.15),(3.5,5.0),(3.52,3.9),(3.55,2.8),(3.58,4.6),(3.6,3.3),
(3.62,4.95),(3.65,4.3),(3.68,5.4),(3.7,3.55),(3.72,4.75),(3.74,5.8),(3.75,2.7),(3.78,4.1),(3.8,3.3),(3.82,4.85),
(3.85,3.9),(3.88,4.5),(3.9,3.6),(3.92,5.6),(3.95,4.65),(3.98,3.85),(4.0,5.1),(4.02,3.4),(4.05,2.9),(4.08,4.8),
(4.1,3.85),(4.12,5.55),(4.15,4.2),(4.18,3.0),(4.2,5.15),(4.22,4.0),(4.25,5.05),(4.3,3.6),(4.35,4.7),(4.4,5.6),
(4.45,3.8),(4.5,4.5),(4.55,3.15),(4.55,3.35),(4.58,3.7),(4.6,3.8),(4.62,3.6),(4.9,4.45),(4.95,4.35),(5.05,4.2),
(3.3,3.8),(3.4,4.0),(3.2,3.6),(3.6,4.7),(3.7,4.4),(3.75,4.85),(3.5,3.7),(3.1,3.9),(3.8,4.5),(3.65,4.0),
(3.15,3.75),(3.25,3.55),
(2.6,3.4),(2.7,3.6),(2.8,3.15),(2.9,3.7),(2.95,3.35),(3.0,3.8),(3.05,3.55),(3.12,4.1),(3.18,3.3),(3.22,4.25),
(3.28,3.75),(3.32,4.3),(3.38,3.55),(3.42,4.4),(3.48,3.9),(3.55,4.5),(3.58,3.6),(3.62,4.25),(3.68,4.65),(3.72,4.15),
(3.78,4.9),(3.82,4.35),(3.88,3.95),(3.95,4.4),(4.0,3.6),(4.05,4.6),(4.15,4.75),(4.25,4.3),(4.35,4.1),(2.75,4.2),
(3.45,5.1),(3.55,5.15),(3.85,5.2),(3.35,3.25),(4.1,3.45),
]

lung_reck = [
(0,0),(0.32,2.0),(1.6,3.1),
(2.15,4.8),(2.18,4.4),(2.2,4.2),(2.25,3.8),(2.3,3.4),(2.35,4.05),(2.4,4.75),(2.42,3.55),(2.45,4.25),(2.5,4.7),
(2.52,3.2),(2.55,3.9),(2.58,4.45),(2.6,3.35),(2.62,5.2),(2.65,4.0),(2.68,3.6),(2.7,4.3),(2.72,3.75),(2.75,2.95),
(2.75,4.55),(2.78,3.45),(2.8,4.85),(2.82,4.1),(2.85,3.6),(2.88,2.8),(2.9,4.4),(2.92,3.9),(2.95,3.5),(2.98,2.4),
(3.0,4.2),(3.02,3.7),(3.05,4.65),(3.08,3.2),(3.1,4.0),(3.12,3.55),(3.15,5.1),(3.18,4.25),(3.2,2.75),(3.22,3.85),
(3.25,4.5),(3.28,3.3),(3.3,4.1),(3.32,3.6),(3.35,4.8),(3.38,3.95),(3.4,3.3),(3.42,4.35),(3.45,2.95),(3.48,4.0),
(3.5,3.6),(3.52,4.6),(3.55,3.85),(3.58,3.3),(3.6,4.3),(3.62,3.0),(3.65,4.9),(3.68,3.7),(3.7,4.45),(3.72,3.2),
(3.75,4.15),(3.78,2.95),(3.8,3.65),(3.82,4.25),(3.85,5.15),(3.88,3.6),(3.9,4.4),(3.92,3.85),(3.95,3.15),(3.98,4.05),
(4.0,4.9),(4.02,3.55),(4.05,4.25),(4.08,3.8),(4.1,4.95),(4.12,3.35),(4.15,4.1),(4.2,3.75),(4.22,4.4),(4.25,4.6),
(4.28,3.45),(4.3,4.0),(4.35,3.85),(4.4,4.3),(4.45,3.6),(4.5,3.65),(4.55,4.25),(4.6,3.8),(4.65,4.55),(4.92,3.7),
(4.95,3.25),(5.1,4.45),
(3.2,4.0),(3.3,3.9),(3.4,4.15),(3.5,3.95),(3.6,4.0),(3.7,3.9),(3.25,3.4),(3.35,3.45),(3.15,3.85),(3.55,4.2),
(3.45,3.75),(2.95,4.1),
(2.6,3.9),(2.7,4.1),(2.8,3.7),(2.85,4.25),(2.9,3.5),(3.0,3.9),(3.05,3.4),(3.1,4.35),(3.18,3.7),(3.22,4.2),
(3.28,3.95),(3.32,4.45),(3.38,3.75),(3.42,4.0),(3.48,3.4),(3.52,4.3),(3.58,3.65),(3.62,4.5),(3.68,4.1),(3.72,3.85),
(3.78,4.35),(3.82,3.5),(3.88,4.1),(3.95,3.7),(4.02,4.3),(4.1,3.6),(4.18,4.15),(4.25,3.9),(4.35,4.2),(2.55,4.35),
(3.3,3.25),(3.25,4.6),(3.75,4.6),(3.9,3.3),(4.45,4.0),
]

brain_sets = [brain_fzd4, brain_lrp5, brain_lrp6, brain_adgra2, brain_reck]
lung_sets = [lung_fzd4, lung_lrp5, lung_lrp6, lung_adgra2, lung_reck]

# ---------------- layout ----------------
W, H = 1255, 555
fig = plt.figure(figsize=(W / 100, H / 100), dpi=100)
fig.patch.set_facecolor('white')

lefts = [97, 337, 579, 821, 1062]
panel_w = 195
rows = [(48, 189), (326, 190)]   # (top px, height px)


def px_box(l, t, w, h):
    return [l / W, 1 - (t + h) / H, w / W, h / H]


def r_lim(v):
    lo, hi = float(np.min(v)), float(np.max(v))
    d = (hi - lo) * 0.04
    return lo - d, hi + d


for r, (sets, pv, rv) in enumerate([(brain_sets, brain_pvals, brain_r),
                                     (lung_sets, lung_pvals, lung_r)]):
    top, hgt = rows[r]
    for c in range(5):
        pts = np.array(sets[c], dtype=float)
        x, y = pts[:, 0], pts[:, 1]
        ax = fig.add_axes(px_box(lefts[c], top, panel_w, hgt))
        ax.scatter(x, y, s=5.5, c='black', linewidths=0, zorder=3)
        ax.set_xlim(*r_lim(x))
        ax.set_ylim(*r_lim(y))
        ax.set_xticks(np.arange(0, int(np.floor(x.max())) + 1))
        ax.set_yticks(np.arange(0, int(np.floor(y.max())) + 1))
        ax.tick_params(direction='out', length=3, width=0.6, color='#555555',
                       labelsize=4.5, pad=5, labelcolor='#333333')
        for lab in ax.get_yticklabels():
            lab.set_rotation(90)
            lab.set_va('center')
        for sp in ax.spines.values():
            sp.set_linewidth(0.9)
            sp.set_color('#222222')
        ax.annotate(f'p\u2212value = {pv[c]}', xy=(0, 1), xycoords='axes fraction',
                    xytext=(7.5, -8), textcoords='offset points',
                    ha='left', va='center', fontsize=6.8, color='#222222')
        ax.annotate(f'R = {rv[c]}', xy=(0, 1), xycoords='axes fraction',
                    xytext=(7.5, -16), textcoords='offset points',
                    ha='left', va='center', fontsize=6.8, color='#222222')
        ax.annotate(x_label, xy=(0.5, 0), xycoords='axes fraction',
                    xytext=(0, -19), textcoords='offset points',
                    ha='center', va='center', fontsize=10.2)
        ax.annotate(f'Log2({genes[c]} TPM)', xy=(0, 0.5), xycoords='axes fraction',
                    xytext=(-19, 0), textcoords='offset points',
                    ha='center', va='center', rotation=90, fontsize=10.2)

# row labels and panel letters
fig.text(25 / W, 1 - 145 / H, row_labels[0], rotation=90, ha='center', va='center', fontsize=16.3)
fig.text(25 / W, 1 - 423 / H, row_labels[1], rotation=90, ha='center', va='center', fontsize=16.5)
fig.text(10 / W, 1 - 27 / H, panel_letters[0], ha='left', va='baseline', fontsize=18, fontweight='bold')
fig.text(9 / W, 1 - 303 / H, panel_letters[1], ha='left', va='baseline', fontsize=18, fontweight='bold')

fig.savefig('out.png', dpi=100, facecolor='white')
